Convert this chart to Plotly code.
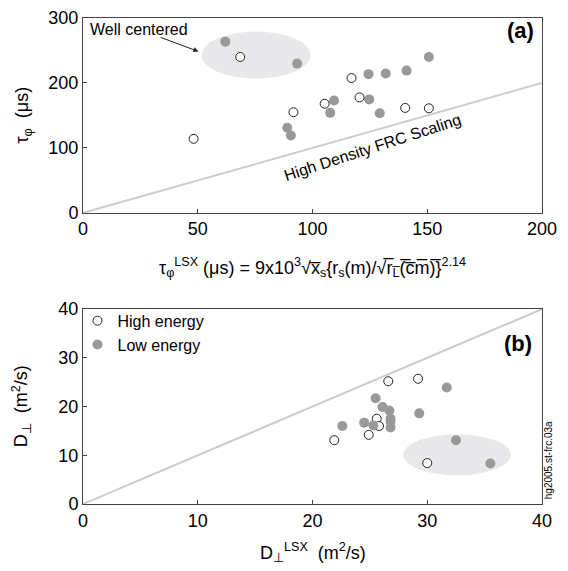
import plotly.graph_objects as go

# ---------------- data: panel (a) ----------------
a_high_x = [48.2, 68.5, 91.7, 105.3, 117.0, 120.5, 140.4, 150.7]
a_high_y = [114, 240, 155, 168, 207.6, 177.8, 161.6, 161]
a_low_x = [62.0, 93.3, 89.0, 90.6, 109.4, 107.7, 124.4, 131.9, 141.0, 150.7, 124.7, 129.3]
a_low_y = [263.6, 229.8, 131, 119, 173, 154, 213.6, 214.6, 219, 240, 174.7, 153.5]
a_line_x = [0, 200]
a_line_y = [0, 200]
a_ellipse = dict(cx=75.4, cy=243, rx=23.7, ry=36.4)

# ---------------- data: panel (b) ----------------
b_high_x = [21.9, 24.9, 25.6, 25.8, 26.6, 29.2, 30.0]
b_high_y = [13.1, 14.2, 17.5, 16.0, 25.2, 25.7, 8.4]
b_low_x = [22.6, 24.5, 25.3, 25.5, 26.1, 26.7, 26.8, 26.8, 26.8, 29.3, 31.7, 32.5, 35.5]
b_low_y = [16.0, 16.7, 16.1, 21.7, 19.9, 19.2, 17.5, 16.9, 15.7, 18.6, 23.9, 13.1, 8.3]
b_line_x = [0, 40]
b_line_y = [0, 40]
b_ellipse = dict(cx=32.6, cy=10.1, rx=4.7, ry=4.2)

a_xticks = [0, 50, 100, 150, 200]
a_yticks = [0, 100, 200, 300]
b_ticks = [0, 10, 20, 30, 40]

FONT = "Liberation Sans, Arial, sans-serif"
GRAY = "#999999"
LINEGRAY = "#cccccc"
AXC = "#444444"

fig = go.Figure()

# panel (a)
fig.add_trace(go.Scatter(x=a_line_x, y=a_line_y, mode="lines", line=dict(color=LINEGRAY, width=2),
                         showlegend=False, xaxis="x", yaxis="y", hoverinfo="skip"))
fig.add_trace(go.Scatter(x=a_low_x, y=a_low_y, mode="markers",
                         marker=dict(size=10, color=GRAY, line=dict(width=0)),
                         showlegend=False, xaxis="x", yaxis="y"))
fig.add_trace(go.Scatter(x=a_high_x, y=a_high_y, mode="markers",
                         marker=dict(size=9, color="white", line=dict(width=1, color="#222")),
                         showlegend=False, xaxis="x", yaxis="y"))

# panel (b)
fig.add_trace(go.Scatter(x=b_line_x, y=b_line_y, mode="lines", line=dict(color=LINEGRAY, width=2),
                         showlegend=False, xaxis="x2", yaxis="y2", hoverinfo="skip"))
fig.add_trace(go.Scatter(x=b_high_x, y=b_high_y, mode="markers", name="High energy",
                         marker=dict(size=9, color="white", line=dict(width=1, color="#222")),
                         xaxis="x2", yaxis="y2"))
fig.add_trace(go.Scatter(x=b_low_x, y=b_low_y, mode="markers", name="Low energy",
                         marker=dict(size=10, color=GRAY, line=dict(width=0)),
                         xaxis="x2", yaxis="y2"))

def ell(e, xr, yr):
    return dict(type="circle", xref=xr, yref=yr, layer="below",
                x0=e["cx"] - e["rx"], x1=e["cx"] + e["rx"],
                y0=e["cy"] - e["ry"], y1=e["cy"] + e["ry"],
                fillcolor="#e8e8ea", line=dict(width=0))

axis_common = dict(showline=True, mirror=True, linecolor=AXC, linewidth=1,
                   ticks="inside", ticklen=4, tickcolor=AXC, showgrid=False,
                   zeroline=False, tickfont=dict(size=18, color="black", family=FONT),
                   fixedrange=True)

ol = "\u0305"
xtitle_a = ("τ<sub>φ</sub><sup>LSX</sup> (μs) = 9x10<sup>3</sup>√x" + ol + "<sub>s</sub>"
            "{r<sub>s</sub>(m)/√r" + ol + "<sub>L" + ol + "</sub>(" + ol + "c" + ol + "m" + ol + ")" + ol + "}"
            "<sup>2.14</sup>")

fig.update_layout(
    width=560, height=563,
    margin=dict(l=75, r=26, t=0, b=67),
    paper_bgcolor="white", plot_bgcolor="white",
    font=dict(family=FONT, size=17, color="black"),
    xaxis=dict(domain=[0, 1], range=[0, 200], tickvals=a_xticks, anchor="y", **axis_common),
    yaxis=dict(domain=[0.599, 1], range=[0, 300], tickvals=a_yticks, anchor="x", **axis_common),
    xaxis2=dict(domain=[0, 1], range=[0, 40], tickvals=b_ticks, anchor="y2", **axis_common),
    yaxis2=dict(domain=[0, 0.401], range=[0, 40], tickvals=b_ticks, anchor="x2", **axis_common),
    shapes=[ell(a_ellipse, "x", "y"), ell(b_ellipse, "x2", "y2")],
    legend=dict(x=-0.012, y=0.412, xanchor="left", yanchor="top", bgcolor="rgba(0,0,0,0)",
                font=dict(size=16, family=FONT), tracegroupgap=0, itemwidth=30),
    showlegend=True,
)

ann = []
ann.append(dict(text=xtitle_a, xref="paper", yref="paper", x=0.5, y=0.486, showarrow=False,
                xanchor="center", yanchor="middle", font=dict(size=18)))
ann.append(dict(text="τ<sub>φ</sub>  (μs)", xref="paper", yref="paper", x=-0.13, y=0.8,
                textangle=-90, showarrow=False, xanchor="center", yanchor="middle", font=dict(size=18)))
ann.append(dict(text="D<sub>⊥</sub><sup>LSX</sup>  (m<sup>2</sup>/s)", xref="paper", yref="paper",
                x=0.5, y=-0.1, showarrow=False, xanchor="center", yanchor="middle", font=dict(size=18)))
ann.append(dict(text="D<sub>⊥</sub>  (m<sup>2</sup>/s)", xref="paper", yref="paper", x=-0.135, y=0.201,
                textangle=-90, showarrow=False, xanchor="center", yanchor="middle", font=dict(size=18)))
ann.append(dict(text="<b>(a)</b>", xref="x", yref="y", x=190.5, y=281, showarrow=False,
                font=dict(size=22)))
ann.append(dict(text="<b>(b)</b>", xref="x2", yref="y2", x=37.9, y=32.9, showarrow=False,
                font=dict(size=22)))
ann.append(dict(text="High Density FRC Scaling", xref="x", yref="y", x=126, y=101, textangle=-18,
                showarrow=False, font=dict(size=16)))
ann.append(dict(text="Well centered", xref="x", yref="y", x=24.5, y=283, showarrow=False,
                font=dict(size=16)))
ann.append(dict(text="", xref="x", yref="y", x=50.3, y=248.5, axref="x", ayref="y", ax=33.2, ay=271,
                showarrow=True, arrowhead=2, arrowsize=1, arrowwidth=1, arrowcolor="#222"))
ann.append(dict(text="hg2005.st-frc.03a", xref="paper", yref="paper", x=1.013, y=0.09,
                textangle=-90, showarrow=False, xanchor="center", yanchor="middle",
                font=dict(size=10)))
fig.update_layout(annotations=ann)

fig.write_html("out.html")
